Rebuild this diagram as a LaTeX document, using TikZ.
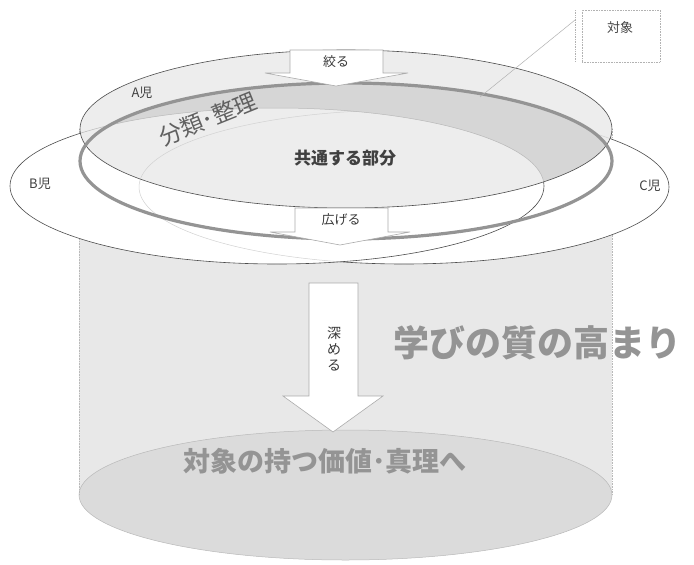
\documentclass[tikz,border=0pt]{standalone}
\usepackage{fontspec}
\newfontfamily\cjk{Noto Sans CJK JP}
\definecolor{linec}{gray}{0.3}
\definecolor{ringc}{gray}{0.58}
\definecolor{txtg}{gray}{0.58}
\definecolor{txtd}{gray}{0.25}
\definecolor{cylfill}{gray}{0.91}
\definecolor{botfill}{gray}{0.86}
\definecolor{afill}{gray}{0.93}
\definecolor{bandfill}{gray}{0.84}
\begin{document}
\begin{tikzpicture}[x=1pt,y=-1pt,
  thinline/.style={draw=linec, line width=0.6pt},
  ringline/.style={draw=ringc, line width=3.2pt},
  blockarrow/.style={fill=white, draw=gray!65, line width=0.6pt, line join=miter},
  lbl/.style={font=\cjk\fontsize{13}{15}\selectfont, text=txtd, inner sep=0pt},
  biglbl/.style={font=\cjk\bfseries, text=txtg, inner sep=0pt}]
\useasboundingbox (0,0) rectangle (694,565);
\fill[white] (0,0) rectangle (694,565);
% cylinder
\fill[cylfill] (79,129) rectangle (612,495);
\filldraw[fill=botfill, draw=gray!55, line width=0.5pt] (345.5,495) ellipse [x radius=266.5pt, y radius=65pt];
\draw[gray!55, densely dotted, line width=0.6pt] (79,129) -- (79,495);
\draw[gray!55, densely dotted, line width=0.6pt] (612,129) -- (612,495);
% C ellipse
\filldraw[fill=white, thinline] (404,187) ellipse [x radius=265pt, y radius=77pt];
% B ellipse
\fill[white] (277,186) ellipse [x radius=267pt, y radius=78pt];
\begin{scope}
  \clip (277,186) ellipse [x radius=267pt, y radius=78pt];
  \draw[gray!35, line width=0.5pt] (404,187) ellipse [x radius=265pt, y radius=77pt];
\end{scope}
\draw[thinline] (277,186) ellipse [x radius=267pt, y radius=78pt];
% A ellipse fill
\fill[afill] (346,129) ellipse [x radius=266pt, y radius=79pt];
\begin{scope}
  \clip (346,129) ellipse [x radius=266pt, y radius=79pt];
  \draw[gray!35, line width=0.5pt] (404,187) ellipse [x radius=265pt, y radius=77pt];
  \clip (346,161) ellipse [x radius=266pt, y radius=78pt];
  \fill[bandfill, even odd rule] (346,161) ellipse [x radius=266pt, y radius=78pt]
       (277,186) ellipse [x radius=267pt, y radius=78pt];
\end{scope}
\begin{scope}
  \clip (346,129) ellipse [x radius=266pt, y radius=79pt];
  \draw[gray!55, line width=0.5pt] (277,186) ellipse [x radius=267pt, y radius=78pt];
\end{scope}
\draw[thinline] (346,129) ellipse [x radius=266pt, y radius=79pt];
% ring
\draw[ringline] (346,161) ellipse [x radius=266pt, y radius=78pt];
% arrows
\draw[blockarrow] (290,50) -- (383,50) -- (383,73) -- (408,73) -- (336,86) -- (265,73) -- (290,73) -- cycle;
\draw[blockarrow] (295,208) -- (388,208) -- (388,232) -- (410,232) -- (340,245) -- (270,232) -- (295,232) -- cycle;
\draw[blockarrow] (309,283) -- (358,283) -- (358,396) -- (383,396) -- (333,432) -- (283,396) -- (309,396) -- cycle;
% texts
\node[lbl, text=gray!45!black] (shiboru) at (336,62) {絞る};
\node[lbl, text=gray!45!black] (hirogeru) at (341,220) {広げる};
\node[lbl, text=gray!45!black, align=center, font=\cjk\fontsize{14}{16}\selectfont] (fukameru) at (334,349) {深\\め\\る};
\node[lbl] (aji) at (142,93) {A児};
\node[lbl] (bji) at (40,184) {B児};
\node[lbl] (cji) at (650,186) {C児};
\node[lbl, font=\cjk\bfseries\fontsize{17}{19}\selectfont, text=txtd] (kyotsu) at (345,158) {共通する部分};
\node[biglbl, font=\cjk\fontsize{23}{25}\selectfont, text=gray!75!black, rotate=22] (bunrui) at (208,119) {分類･整理};
\node[biglbl, font=\cjk\bfseries\fontsize{36}{40}\selectfont] (manabi) at (537,343) {学びの質の高まり};
\node[biglbl, font=\cjk\bfseries\fontsize{27}{30}\selectfont] (taisho) at (325,461) {対象の持つ価値･真理へ};
% callout
\node[draw=gray!60, densely dotted, line width=0.6pt, minimum width=78pt, minimum height=52pt, inner sep=0pt] (tbox) at (621,36) {};
\node[lbl, text=gray!55!black, font=\cjk\fontsize{13}{15}\selectfont] (ttext) at (620,28) {対象};
\coordinate (ctop) at (575,10);
\coordinate (cbot) at (575,62);
\coordinate (cstart) at (575,20);
\coordinate (cend) at (480,97);
\draw[gray!60, densely dotted, line width=0.7pt] (ctop) -- (cbot);
\draw[gray!60, line width=0.5pt] (cstart) -- (cend);
\end{tikzpicture}
\end{document}
